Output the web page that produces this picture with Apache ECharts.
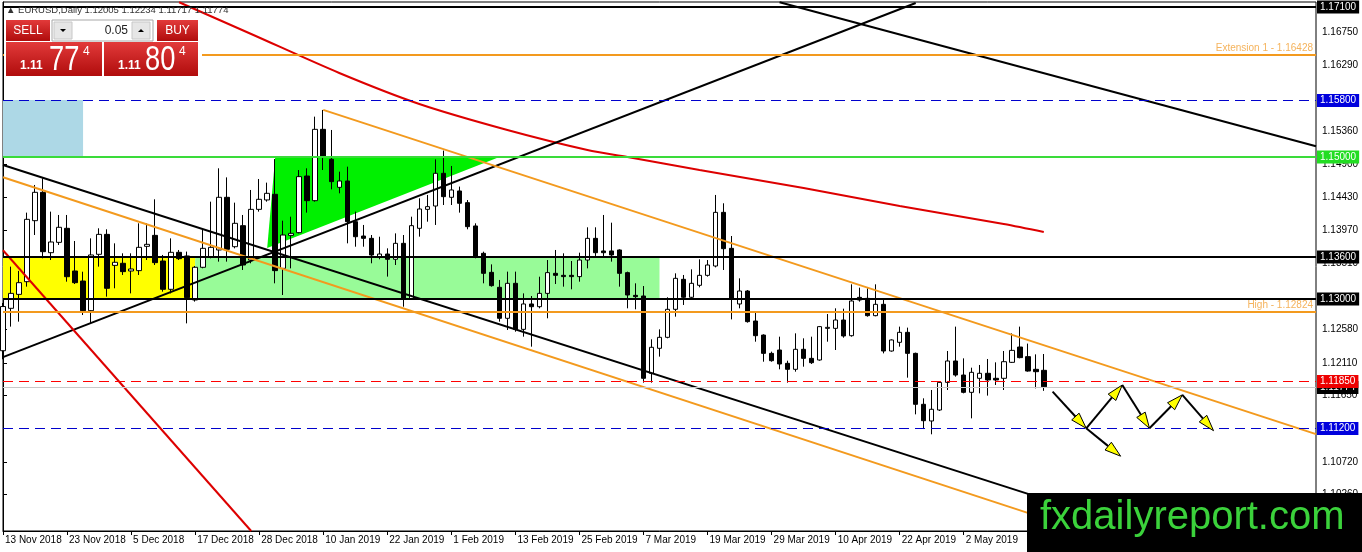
<!DOCTYPE html>
<html>
<head>
<meta charset="utf-8">
<title>EURUSD Daily</title>
<script src="https://cdn.jsdelivr.net/npm/echarts@6/dist/echarts.min.js"></script>
<style>
html, body { margin: 0; padding: 0; background: #fff; }
#main { width: 1362px; height: 552px; }
</style>
</head>
<body>
<div id="main"></div>
<script>
// daily candles, 13 Nov 2018 .. 16 May 2019 (bar index = trading day)
var opens = [1.1228, 1.12875, 1.13071, 1.13249, 1.14105, 1.14503, 1.13656, 1.13801, 1.13998, 1.13399,
    1.13258, 1.12842, 1.13633, 1.13913, 1.13478, 1.13507, 1.13399, 1.13404, 1.13745, 1.13899,
    1.13539, 1.13142, 1.13661, 1.1361, 1.12992, 1.13451, 1.136, 1.13694, 1.14433, 1.1374,
    1.14035, 1.13553, 1.14264, 1.14396, 1.14475, 1.13436, 1.13899, 1.13937, 1.14732, 1.14386,
    1.15387, 1.14966, 1.14573, 1.14662, 1.14091, 1.1389, 1.13857, 1.136, 1.13637, 1.13563,
    1.13787, 1.13001, 1.13998, 1.14264, 1.14311, 1.1477, 1.14433, 1.14522, 1.14358, 1.14031,
    1.13647, 1.1338, 1.1317, 1.12735, 1.13226, 1.1258, 1.12936, 1.12898, 1.13085, 1.13366,
    1.13338, 1.13338, 1.1332, 1.13553, 1.13857, 1.1368, 1.1368, 1.13694, 1.13376, 1.13057,
    1.13048, 1.11963, 1.12314, 1.12468, 1.12861, 1.13282, 1.1303, 1.13198, 1.13338, 1.13469,
    1.14222, 1.13717, 1.12936, 1.13118, 1.12697, 1.125, 1.12243, 1.1229, 1.12103, 1.12019,
    1.123, 1.12173, 1.1215, 1.12594, 1.12594, 1.12711, 1.12491, 1.13029, 1.13015, 1.12772,
    1.12931, 1.12276, 1.12398, 1.12538, 1.12243, 1.11528, 1.11294, 1.11448, 1.11836, 1.12136,
    1.11939, 1.11696, 1.11893, 1.11963, 1.11893, 1.11893, 1.12117, 1.12332, 1.12197, 1.12019,
    1.12005];
var highs = [1.1295, 1.1346, 1.134, 1.14218, 1.14606, 1.147, 1.14232, 1.14185, 1.14185, 1.1382,
    1.13389, 1.13857, 1.13998, 1.13984, 1.13787, 1.13647, 1.13647, 1.14068, 1.14068, 1.14405,
    1.13624, 1.13857, 1.13694, 1.13671, 1.13469, 1.13974, 1.14372, 1.1484, 1.14713, 1.14358,
    1.14185, 1.14536, 1.1469, 1.14639, 1.1497, 1.14105, 1.14161, 1.14816, 1.1484, 1.15565,
    1.15659, 1.15378, 1.14793, 1.14863, 1.14232, 1.14045, 1.13904, 1.1388, 1.13717, 1.13927,
    1.13904, 1.14161, 1.14419, 1.14466, 1.14966, 1.15088, 1.14873, 1.14583, 1.14395, 1.14068,
    1.1367, 1.13492, 1.13273, 1.1339, 1.1339, 1.13085, 1.13048, 1.13319, 1.13553, 1.13694,
    1.13647, 1.13539, 1.13656, 1.14012, 1.14012, 1.14185, 1.14077, 1.13703, 1.1339, 1.13226,
    1.13188, 1.1244, 1.1258, 1.1303, 1.13366, 1.13343, 1.13422, 1.13563, 1.13553, 1.14466,
    1.14349, 1.1389, 1.13296, 1.13132, 1.12814, 1.1251, 1.12267, 1.12477, 1.1214, 1.12524,
    1.12454, 1.12477, 1.12627, 1.12795, 1.12875, 1.1287, 1.13212, 1.13165, 1.13156, 1.13212,
    1.13006, 1.1244, 1.12618, 1.12604, 1.12253, 1.11612, 1.11729, 1.11846, 1.12276, 1.12618,
    1.12173, 1.12042, 1.1208, 1.12164, 1.12117, 1.12276, 1.12524, 1.12618, 1.1238, 1.12229,
    1.12234];
var lows = [1.1216, 1.12618, 1.12688, 1.13179, 1.13904, 1.13577, 1.13553, 1.13764, 1.13249, 1.13216,
    1.12781, 1.12664, 1.1346, 1.13039, 1.13156, 1.13343, 1.13085, 1.13343, 1.13553, 1.13483,
    1.13109, 1.13085, 1.13553, 1.12664, 1.12969, 1.13437, 1.13577, 1.1353, 1.1353, 1.13717,
    1.13413, 1.13507, 1.14232, 1.14372, 1.13226, 1.13062, 1.13436, 1.13927, 1.14218, 1.14372,
    1.14816, 1.14545, 1.14489, 1.13787, 1.1374, 1.1374, 1.13507, 1.13563, 1.1332, 1.13483,
    1.12898, 1.12992, 1.13881, 1.14091, 1.14045, 1.14325, 1.14325, 1.14218, 1.13984, 1.13577,
    1.13226, 1.13179, 1.12688, 1.12571, 1.12547, 1.12477, 1.12337, 1.12875, 1.12735, 1.13216,
    1.13179, 1.13142, 1.13249, 1.13436, 1.1361, 1.136, 1.1353, 1.13179, 1.12875, 1.12861,
    1.11832, 1.11832, 1.12197, 1.12454, 1.12758, 1.12922, 1.12992, 1.1317, 1.1332, 1.1345,
    1.13413, 1.1272, 1.12875, 1.12674, 1.12407, 1.12126, 1.12126, 1.12019, 1.11832, 1.11986,
    1.12056, 1.12094, 1.1214, 1.12407, 1.1229, 1.12463, 1.12477, 1.12969, 1.12758, 1.12763,
    1.12243, 1.12267, 1.12337, 1.11902, 1.11387, 1.11181, 1.11107, 1.11434, 1.11729, 1.11916,
    1.11682, 1.11331, 1.11682, 1.1165, 1.11799, 1.11729, 1.12108, 1.12173, 1.11986, 1.11752,
    1.11717];
var closes = [1.129, 1.13085, 1.13235, 1.14124, 1.14503, 1.1367, 1.13806, 1.14012, 1.13319, 1.13235,
    1.12842, 1.13624, 1.13913, 1.13156, 1.13521, 1.1339, 1.13427, 1.13731, 1.13773, 1.13516,
    1.13142, 1.13661, 1.13572, 1.13025, 1.13451, 1.13717, 1.13731, 1.14433, 1.13703, 1.14068,
    1.13483, 1.14264, 1.14405, 1.14489, 1.13404, 1.13904, 1.13927, 1.14723, 1.14386, 1.15387,
    1.14994, 1.14653, 1.14662, 1.14091, 1.1388, 1.13857, 1.13623, 1.13637, 1.13563, 1.13787,
    1.13001, 1.14035, 1.14269, 1.14302, 1.1477, 1.14442, 1.14536, 1.14349, 1.14021, 1.136,
    1.13366, 1.13193, 1.12735, 1.13226, 1.1258, 1.12936, 1.12898, 1.13085, 1.13376, 1.13338,
    1.1332, 1.1332, 1.13553, 1.13857, 1.13656, 1.13656, 1.13624, 1.13366, 1.13062, 1.13039,
    1.11893, 1.12328, 1.12468, 1.12861, 1.13296, 1.1303, 1.13226, 1.13338, 1.13483, 1.14222,
    1.13712, 1.13001, 1.13118, 1.12688, 1.12491, 1.12243, 1.1214, 1.12094, 1.12019, 1.123,
    1.12173, 1.12112, 1.12618, 1.12608, 1.12711, 1.12487, 1.12978, 1.12992, 1.12772, 1.12931,
    1.12276, 1.12431, 1.12538, 1.12243, 1.11528, 1.11298, 1.11458, 1.11836, 1.12136, 1.11939,
    1.11696, 1.11977, 1.11963, 1.1187, 1.1187, 1.12126, 1.12285, 1.12183, 1.11995, 1.11986,
    1.11774];

// one label every 8 bars
var xTickLabels = ['13 Nov 2018', '23 Nov 2018', '5 Dec 2018', '17 Dec 2018', '28 Dec 2018',
    '10 Jan 2019', '22 Jan 2019', '1 Feb 2019', '13 Feb 2019', '25 Feb 2019', '7 Mar 2019',
    '19 Mar 2019', '29 Mar 2019', '10 Apr 2019', '22 Apr 2019', '2 May 2019'];
var yTicks = [1.1675, 1.1629, 1.1536, 1.149, 1.1443, 1.1397, 1.1351, 1.1258, 1.1211, 1.1165, 1.1072, 1.1026];

// horizontal levels drawn on the chart
var levelValues = [1.171, 1.16428, 1.158, 1.15, 1.136, 1.13, 1.12824, 1.11774, 1.1185, 1.112];

// moving average (red curve), read every few bars
var maBars = [22, 31, 42, 52, 63, 73, 78, 87, 100, 112, 125, 130];
var maValues = [1.1717, 1.16725, 1.16178, 1.15743, 1.15378, 1.15097, 1.14999, 1.14816, 1.14564, 1.14311, 1.14058, 1.13946];

// trend lines: [bar1, price1, bar2, price2]
var trendLines = [
    [0, 1.1219, 114, 1.1716],
    [0, 1.14887, 140, 1.0984],
    [0, 1.14714, 130, 1.0993],
    [40, 1.1566, 164, 1.1111],
    [97, 1.1717, 164, 1.1515],
    [0, 1.1369, 31, 1.0975]
];
// zones: [bar1, price1, bar2, price2]
var zoneBoxes = [
    [0, 1.158, 10, 1.15],
    [0, 1.136, 24, 1.13],
    [24, 1.136, 82, 1.13]
];
var triangleZone = [34, 1.15, 33, 1.1372, 62, 1.15];
// projected path arrows: [bar1, price1, bar2, price2]
var arrowSegs = [
    [131.1, 1.11705, 135.3, 1.11191],
    [135.3, 1.11191, 139.8, 1.11799],
    [139.8, 1.11799, 143.2, 1.11191],
    [143.2, 1.11191, 147.3, 1.11661],
    [147.3, 1.11661, 151.2, 1.11158],
    [135.3, 1.11191, 139.6, 1.1080]
];

var barCount = 165;
var yMin = 1.0975, yMax = 1.17174;

var categories = [];
for (var i = 0; i < barCount; i++) categories.push(String(i));

var candleData = opens.map(function (o, i) {
    return [o, closes[i], lows[i], highs[i]];
});

var ORANGE = '#F39A1E';
var trendColors = ['#000', '#000', ORANGE, ORANGE, '#000', '#DD0000'];
var zoneColors = ['#ADD8E6', '#FFFF00', '#98FB98'];
var levelStyles = [
    { color: '#000', width: 2, tag: '#000' },
    { color: ORANGE, width: 2, note: 'Extension 1 - ' },
    { color: '#0000CC', width: 1, dash: [10, 6], tag: '#0000DD' },
    { color: '#3ADB3A', width: 2, tag: '#22DD22' },
    { color: '#000', width: 2, tag: '#000' },
    { color: '#000', width: 2, tag: '#000' },
    { color: ORANGE, width: 2, note: 'High - ' },
    { color: '#C8C8C8', width: 1, tag: '#000' },
    { color: '#FF0000', width: 1, dash: [10, 6], tag: '#EE0000' },
    { color: '#0000CC', width: 1, dash: [10, 6], tag: '#0000DD' }
];

var trendSeries = trendLines.map(function (t, i) {
    return {
        type: 'line', xAxisIndex: 1, silent: true, showSymbol: false, symbol: 'none', clip: true,
        lineStyle: { color: trendColors[i], width: 2 },
        data: [[t[0], t[1]], [t[2], t[3]]],
        z: 4
    };
});

var chartDom = document.getElementById('main');
var myChart = echarts.init(chartDom);
var option;

function redBox(x, y, w, h) {
    return {
        type: 'rect', shape: { x: x, y: y, width: w, height: h },
        style: {
            fill: new echarts.graphic.LinearGradient(0, 0, 0, 1, [
                { offset: 0, color: '#E23A3A' }, { offset: 1, color: '#B00C0C' }
            ])
        }
    };
}
function txt(s, x, y, font, fill, align, extra) {
    var el = {
        type: 'text', x: x, y: y,
        style: { text: s, font: font, fill: fill, align: align || 'left', verticalAlign: 'middle' }
    };
    if (extra) for (var k in extra) el[k] = extra[k];
    return el;
}

option = {
    animation: false,
    backgroundColor: '#fff',
    grid: { left: 3, right: 46, top: 2, bottom: 21, show: true, borderColor: '#000', borderWidth: 1 },
    xAxis: [
        {
            type: 'category', data: categories, boundaryGap: false,
            axisLine: { lineStyle: { color: '#000', width: 1 } },
            axisTick: { interval: 7, length: 4, lineStyle: { color: '#000' } },
            axisLabel: {
                interval: 7, align: 'left', margin: 4, padding: [0, 0, 0, 2],
                color: '#000', fontSize: 10, fontFamily: 'Liberation Sans',
                formatter: function (v, idx) { return xTickLabels[idx / 8] || ''; }
            },
            splitLine: { show: false }
        },
        { type: 'value', min: 0, max: barCount - 1, show: false }
    ],
    yAxis: {
        type: 'value', position: 'right', min: yMin, max: yMax, scale: true,
        axisLine: { show: true, lineStyle: { color: '#000', width: 1 } },
        axisTick: { show: true, length: 4, customValues: yTicks, lineStyle: { color: '#000' } },
        axisLabel: {
            customValues: yTicks, margin: 6, color: '#000', fontSize: 10, fontFamily: 'Liberation Sans',
            formatter: function (v) { return v.toFixed(5); }
        },
        splitLine: { show: false }
    },
    series: [
        {
            type: 'custom', xAxisIndex: 1, silent: true, z: 1,
            data: zoneBoxes,
            renderItem: function (params, api) {
                var p1 = api.coord([api.value(0), api.value(1)]);
                var p2 = api.coord([api.value(2), api.value(3)]);
                return {
                    type: 'rect',
                    shape: { x: p1[0], y: p1[1], width: p2[0] - p1[0], height: p2[1] - p1[1] },
                    style: { fill: zoneColors[params.dataIndex] }
                };
            }
        },
        {
            type: 'custom', xAxisIndex: 1, silent: true, z: 1,
            data: [triangleZone],
            renderItem: function (params, api) {
                var pts = [0, 2, 4].map(function (k) {
                    return api.coord([api.value(k), api.value(k + 1)]);
                });
                return { type: 'polygon', shape: { points: pts }, style: { fill: '#00F000' } };
            }
        },
        {
            type: 'candlestick', xAxisIndex: 0, data: candleData, barWidth: 5, clip: true, z: 3,
            itemStyle: { color: '#fff', color0: '#000', borderColor: '#000', borderColor0: '#000', borderWidth: 1 }
        },
        {
            type: 'line', xAxisIndex: 1, silent: true, showSymbol: false, symbol: 'none', smooth: 0.3, clip: true,
            lineStyle: { color: '#DD0000', width: 2 },
            data: maBars.map(function (b, i) { return [b, maValues[i]]; }),
            z: 4
        },
        {
            // price levels with their tags on the price scale
            type: 'custom', xAxisIndex: 1, silent: true, z: 5, clip: false,
            data: levelValues.map(function (v, i) { return [i, v]; }),
            renderItem: function (params, api) {
                var s = levelStyles[params.dataIndex];
                var v = api.value(1);
                var p1 = api.coord([0, v]);
                var p2 = api.coord([barCount - 1, v]);
                var y = Math.round(p1[1]) + (s.width % 2 ? 0.5 : 0);
                var children = [{
                    type: 'line', shape: { x1: p1[0], y1: y, x2: p2[0], y2: y },
                    style: { stroke: s.color, lineWidth: s.width, lineDash: s.dash || null }
                }];
                if (s.tag) {
                    children.push({
                        type: 'text', x: p2[0] + 1, y: y,
                        style: {
                            text: v.toFixed(5), fill: '#fff', backgroundColor: s.tag, padding: [2, 3, 1, 3],
                            font: '10px "Liberation Sans"', verticalAlign: 'middle'
                        }
                    });
                } else {
                    children.push({
                        type: 'text', x: p2[0] - 3, y: y - 2,
                        style: {
                            text: s.note + v.toFixed(5), fill: '#F5B35C',
                            font: '10px "Liberation Sans"', align: 'right', verticalAlign: 'bottom'
                        }
                    });
                }
                return { type: 'group', children: children };
            }
        }
    ].concat(trendSeries).concat([
        {
            type: 'custom', xAxisIndex: 1, silent: true, z: 6,
            data: arrowSegs,
            renderItem: function (params, api) {
                var a = api.coord([api.value(0), api.value(1)]);
                var b = api.coord([api.value(2), api.value(3)]);
                var dx = b[0] - a[0], dy = b[1] - a[1];
                var len = Math.sqrt(dx * dx + dy * dy);
                var ux = dx / len, uy = dy / len;
                var hl = 16, hw = 5;
                var bx = b[0] - ux * hl, by = b[1] - uy * hl;
                return {
                    type: 'group',
                    children: [
                        { type: 'line', shape: { x1: a[0], y1: a[1], x2: bx, y2: by }, style: { stroke: '#000', lineWidth: 2 } },
                        {
                            type: 'polygon',
                            shape: { points: [[b[0], b[1]], [bx - uy * hw, by + ux * hw], [bx + uy * hw, by - ux * hw]] },
                            style: { fill: '#FFFF00', stroke: '#000', lineWidth: 1 }
                        }
                    ]
                };
            }
        }
    ]),
    graphic: [
        // header line
        txt('\u25B2 EURUSD,Daily 1.12005 1.12234 1.11717 1.11774', 6, 10, '9.5px "Liberation Sans"', '#333', 'left', { z: 100 }),
        // trade panel
        { type: 'rect', z: 100, shape: { x: 4, y: 17, width: 198, height: 62 }, style: { fill: '#fff' } },
        Object.assign(redBox(6, 20, 44, 21), { z: 101 }),
        Object.assign(redBox(157, 20, 41, 21), { z: 101 }),
        Object.assign(redBox(6, 42, 96, 34), { z: 101 }),
        Object.assign(redBox(104, 42, 94, 34), { z: 101 }),
        { type: 'rect', z: 101, shape: { x: 52, y: 20, width: 101, height: 21 }, style: { fill: '#fff', stroke: '#A8A8A8' } },
        { type: 'rect', z: 102, shape: { x: 54, y: 22, width: 18, height: 17 }, style: { fill: '#E6E6E6', stroke: '#C8C8C8' } },
        { type: 'rect', z: 102, shape: { x: 132, y: 22, width: 18, height: 17 }, style: { fill: '#E6E6E6', stroke: '#C8C8C8' } },
        { type: 'polygon', z: 103, shape: { points: [[60, 29], [66, 29], [63, 32]] }, style: { fill: '#000' } },
        { type: 'polygon', z: 103, shape: { points: [[138, 32], [144, 32], [141, 29]] }, style: { fill: '#000' } },
        txt('SELL', 28, 31, '12px "Liberation Sans"', '#fff', 'center', { z: 103 }),
        txt('BUY', 177.5, 31, '12px "Liberation Sans"', '#fff', 'center', { z: 103 }),
        txt('0.05', 128, 31, '12px "Liberation Sans"', '#222', 'right', { z: 103 }),
        txt('1.11', 20, 66, 'bold 12px "Liberation Sans"', '#fff', 'left', { z: 103 }),
        txt('77', 49, 60, '35px "Liberation Sans"', '#fff', 'left', { z: 103, scaleX: 0.78 }),
        txt('4', 83, 52, '12px "Liberation Sans"', '#fff', 'left', { z: 103 }),
        txt('1.11', 118, 66, 'bold 12px "Liberation Sans"', '#fff', 'left', { z: 103 }),
        txt('80', 145, 60, '35px "Liberation Sans"', '#fff', 'left', { z: 103, scaleX: 0.78 }),
        txt('4', 179, 52, '12px "Liberation Sans"', '#fff', 'left', { z: 103 }),
        // watermark
        { type: 'rect', z: 110, shape: { x: 1027, y: 493, width: 335, height: 59 }, style: { fill: '#000' } },
        txt('fxdailyreport.com', 1040, 518, '40px "Liberation Sans"', '#3BD23B', 'left', { z: 111 })
    ]
};

option && myChart.setOption(option);
</script>
</body>
</html>
